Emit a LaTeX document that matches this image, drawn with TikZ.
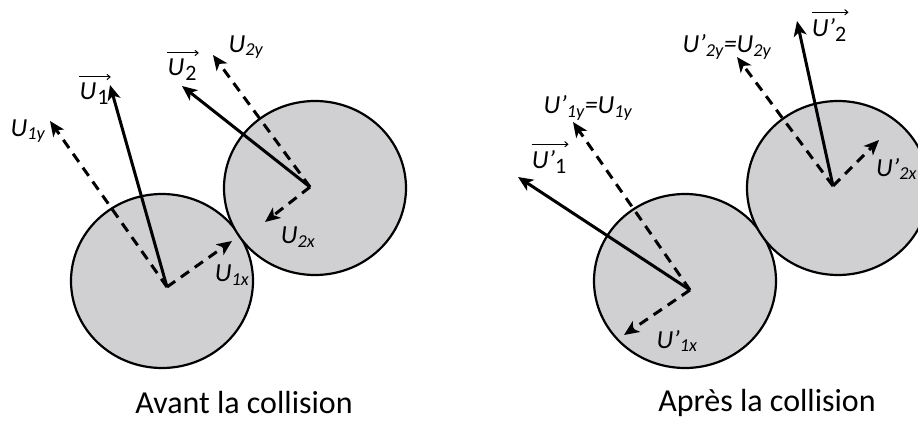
\documentclass[tikz,border=0pt]{standalone}
\usepackage{fontspec}
\setmainfont{Carlito}
\usetikzlibrary{arrows.meta}
\usetikzlibrary{positioning}
\definecolor{fg}{rgb}{0,0,0}
\definecolor{disc}{RGB}{208,207,210}
\tikzstyle{ball}=[draw=fg, fill=disc, line width=2.2pt]
\tikzstyle{vec}=[-{Stealth[length=15pt,width=13pt,inset=4pt]}, line width=3pt, draw=fg]
\tikzstyle{comp}=[vec, dash pattern=on 10pt off 7pt]
\tikzstyle{lab}=[text=fg, inner sep=0pt, font=\fontsize{26}{30}\selectfont\itshape]
\tikzstyle{caption}=[text=fg, inner sep=0pt, font=\fontsize{32}{38}\selectfont]
\tikzstyle{over}=[-{To[length=4pt,width=6pt]}, line width=1pt, draw=fg]
\newcommand{\idx}[1]{\raisebox{-5pt}{\fontsize{22}{24}\selectfont\upshape #1}}

\begin{document}
\begin{tikzpicture}[x=1pt, y=-1pt]

    \useasboundingbox (0,0) rectangle (918,422);

    % avant la collision
    \draw[ball] (162,281) ellipse [x radius=91, y radius=87];
    \draw[ball] (315,188) ellipse [x radius=91, y radius=87];

    \coordinate (O1) at (167,287);
    \coordinate (U1) at (110,85);
    \coordinate (U1x) at (232,241);
    \coordinate (U1y) at (50,121);
    \draw[vec] (O1) -- (U1);
    \draw[comp] (O1) -- (U1x);
    \draw[comp] (O1) -- (U1y);

    \coordinate (O2) at (310,187);
    \coordinate (U2) at (182,86);
    \coordinate (U2x) at (265,222);
    \coordinate (U2y) at (213,55);
    \draw[vec] (O2) -- (U2);
    \draw[comp] (O2) -- (U2x);
    \draw[comp] (O2) -- (U2y);

    \node[lab] (lU1) at (94,94) {U\kern1pt\idx{1}};
    \draw[over] ([yshift=6pt]lU1.north west) -- ([yshift=6pt, xshift=2pt]lU1.north east);
    \node[lab] (lU1x) at (232,275) {U\textsubscript{1x}};
    \node[lab] (lU1y) at (28,131) {U\textsubscript{1y}};
    \node[lab] (lU2) at (182,70) {U\kern1pt\idx{2}};
    \draw[over] ([yshift=6pt]lU2.north west) -- ([yshift=6pt, xshift=2pt]lU2.north east);
    \node[lab] (lU2x) at (298,237) {U\textsubscript{2x}};
    \node[lab] (lU2y) at (246,47) {U\textsubscript{2y}};

    \node[caption] (avant) at (244,403) {Avant la collision};

    % apres la collision
    \draw[ball] (685,281) ellipse [x radius=91, y radius=87];
    \draw[ball] (838,188) ellipse [x radius=91, y radius=87];

    \coordinate (O3) at (690,290);
    \coordinate (V1) at (518,177);
    \coordinate (V1x) at (624,335);
    \coordinate (V1y) at (573,122);
    \draw[vec] (O3) -- (V1);
    \draw[comp] (O3) -- (V1x);
    \draw[comp] (O3) -- (V1y);

    \coordinate (O4) at (833,186);
    \coordinate (V2) at (797,21);
    \coordinate (V2x) at (879,140);
    \coordinate (V2y) at (737,57);
    \draw[vec] (O4) -- (V2);
    \draw[comp] (O4) -- (V2x);
    \draw[comp] (O4) -- (V2y);

    \node[lab] (lV1) at (549,162) {U'\idx{1}};
    \draw[over] ([yshift=6pt]lV1.north west) -- ([yshift=6pt, xshift=2pt]lV1.north east);
    \node[lab] (lV1x) at (677,341) {U'\textsubscript{1x}};
    \node[lab] (lV1y) at (588,108) {U'\textsubscript{1y}=U\textsubscript{1y}};
    \node[lab] (lV2) at (829,30) {U'\idx{2}};
    \draw[over] ([yshift=6pt]lV2.north west) -- ([yshift=6pt, xshift=2pt]lV2.north east);
    \node[lab, anchor=west] (lV2x) at (876,169) {U'\textsubscript{2x}};
    \node[lab] (lV2y) at (727,47) {U'\textsubscript{2y}=U\textsubscript{2y}};

    \node[caption] (apres) at (767,403) {Après la collision};

\end{tikzpicture}
\end{document}
